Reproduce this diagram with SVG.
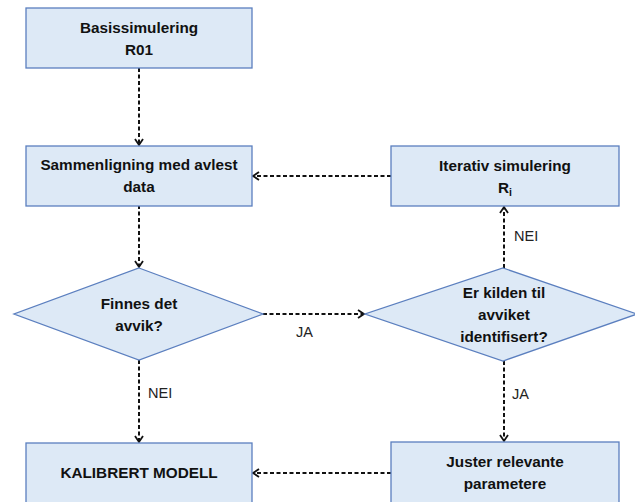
<svg xmlns="http://www.w3.org/2000/svg" width="635" height="502" viewBox="0 0 635 502">
  <style>
    .box { fill: #dde9f6; stroke: #5b7fbf; stroke-width: 1.3; }
    .t { font-family: "Liberation Sans", Arial, sans-serif; font-weight: bold; font-size: 15.3px; fill: #111; text-anchor: middle; }
    .lbl { font-family: "Liberation Sans", Arial, sans-serif; font-size: 14.5px; fill: #222; }
    .edge { fill: none; stroke: #111; stroke-width: 2; stroke-dasharray: 4 2.5; marker-end: url(#arr); }
  </style>
  <defs>
    <marker id="arr" markerWidth="10" markerHeight="10" refX="8" refY="5" orient="auto" markerUnits="userSpaceOnUse">
      <path d="M2,1 L8,5 L2,9" fill="none" stroke="#111" stroke-width="1.8"/>
    </marker>
  </defs>
  <rect width="635" height="502" fill="#ffffff"/>

  <g id="connectors">
    <path class="edge" d="M139,68 V145"/>
    <path class="edge" d="M391,176 H253"/>
    <path class="edge" d="M139,205 V267"/>
    <path class="edge" d="M263,314 H364"/>
    <path class="edge" d="M504,268 V207"/>
    <path class="edge" d="M139,360 V442"/>
    <path class="edge" d="M504,361 V441"/>
    <path class="edge" d="M391,473 H253"/>
    <text class="lbl" x="514" y="241">NEI</text>
    <text class="lbl" x="296" y="337">JA</text>
    <text class="lbl" x="148" y="398">NEI</text>
    <text class="lbl" x="512" y="399">JA</text>
  </g>

  <g id="basis">
    <rect class="box" x="26" y="8" width="226" height="60"/>
    <text class="t" x="139" y="33">Basissimulering</text>
    <text class="t" x="139" y="55">R01</text>
  </g>

  <g id="sammenligning">
    <rect class="box" x="26" y="146" width="226" height="60"/>
    <text class="t" x="139" y="170">Sammenligning med avlest</text>
    <text class="t" x="139" y="192">data</text>
  </g>

  <g id="iterativ">
    <rect class="box" x="391" y="146" width="228" height="60"/>
    <text class="t" x="505" y="171">Iterativ simulering</text>
    <text class="t" x="505" y="193">R<tspan font-size="10.5" dy="3">i</tspan></text>
  </g>

  <g id="finnes">
    <polygon class="box" points="139,268 263,314 139,360 14,314"/>
    <text class="t" x="139" y="309">Finnes det</text>
    <text class="t" x="139" y="331">avvik?</text>
  </g>

  <g id="kilden">
    <polygon class="box" points="503,268 637,314 503,361 365,314"/>
    <text class="t" x="504" y="298">Er kilden til</text>
    <text class="t" x="504" y="320">avviket</text>
    <text class="t" x="504" y="342">identifisert?</text>
  </g>

  <g id="kalibrert">
    <rect class="box" x="26" y="443" width="226" height="62"/>
    <text class="t" x="139" y="478">KALIBRERT MODELL</text>
  </g>

  <g id="juster">
    <rect class="box" x="391" y="442" width="228" height="63"/>
    <text class="t" x="505" y="467">Juster relevante</text>
    <text class="t" x="505" y="489">parametere</text>
  </g>
</svg>
